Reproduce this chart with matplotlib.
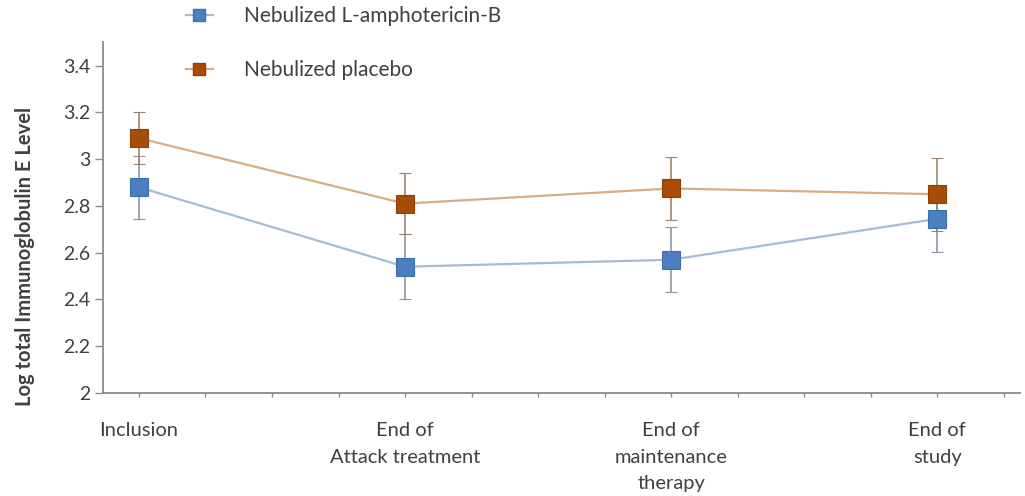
import matplotlib
matplotlib.use("Agg")
import matplotlib.pyplot as plt
from matplotlib.lines import Line2D
import numpy as np

plt.rcParams['font.family'] = ['Lato', 'DejaVu Sans']

# Données
timepoints = ['Inclusion', 'End of\nAttack treatment', 'End of\nmaintenance\ntherapy', 'End of\nstudy']
ampho_mean = [2.88, 2.54, 2.57, 2.745]
ampho_err = [0.135, 0.14, 0.14, 0.14]
placebo_mean = [3.09, 2.81, 2.875, 2.85]
placebo_err = [0.11, 0.13, 0.135, 0.155]

x = np.arange(len(timepoints))

fig = plt.figure(figsize=(10.25, 4.96), dpi=100)
ax = fig.add_axes([0.1005, 0.2077, 0.8945, 0.707])

# Série L-amphotericin-B
ax.errorbar(x, ampho_mean, yerr=ampho_err, color='#a9bbd3', lw=1.6,
            ecolor='#8d97a3', elinewidth=1.2, capsize=4, capthick=1.2,
            marker='s', ms=13, mfc='#4a7fc1', mec='#3f6fa8', mew=0.8, zorder=3)
# Série placebo
ax.errorbar(x, placebo_mean, yerr=placebo_err, color='#d6ad84', lw=1.6,
            ecolor='#9b8572', elinewidth=1.2, capsize=4, capthick=1.2,
            marker='s', ms=13, mfc='#a84d06', mec='#8f4005', mew=0.8, zorder=3)

ax.set_xlim(-0.135, 3.31)
ax.set_ylim(2, 3.5)
ax.set_yticks([2, 2.2, 2.4, 2.6, 2.8, 3, 3.2, 3.4])
ax.set_yticklabels(['2', '2.2', '2.4', '2.6', '2.8', '3', '3.2', '3.4'])
ax.set_xticks(x)
ax.set_xticklabels(timepoints, linespacing=1.68)
ax.set_xticks(np.arange(0, 3.3, 0.25), minor=True)

for s in ['top', 'right']:
    ax.spines[s].set_visible(False)
for s in ['left', 'bottom']:
    ax.spines[s].set_color('#8a8a8a')
    ax.spines[s].set_linewidth(1.3)

ax.tick_params(axis='y', direction='out', length=6, width=1, color='#8a8a8a',
               labelsize=14, labelcolor='#404040', pad=3)
ax.tick_params(axis='x', which='major', direction='out', length=3, width=1,
               color='#8a8a8a', labelsize=14.5, labelcolor='#404040', pad=18)
ax.tick_params(axis='x', which='minor', direction='out', length=3, width=1,
               color='#8a8a8a')

ax.set_ylabel('Log total Immunoglobulin E Level', fontsize=14.5, fontweight='bold',
              color='#404040')
ax.yaxis.set_label_coords(-0.074, 0.39)

handles = [
    Line2D([], [], color='#a9bbd3', lw=1.6, marker='s', ms=8, mfc='#4a7fc1', mec='#3f6fa8'),
    Line2D([], [], color='#d6ad84', lw=1.6, marker='s', ms=8, mfc='#a84d06', mec='#8f4005'),
]
fig.legend(handles, ['Nebulized L-amphotericin-B', 'Nebulized placebo'],
           loc='upper left', bbox_to_anchor=(0.163, 1.026), frameon=False,
           fontsize=15, labelspacing=1.65, handlelength=1.3, handletextpad=1.5,
           labelcolor='#404040')

plt.savefig('out.png', dpi=100)
